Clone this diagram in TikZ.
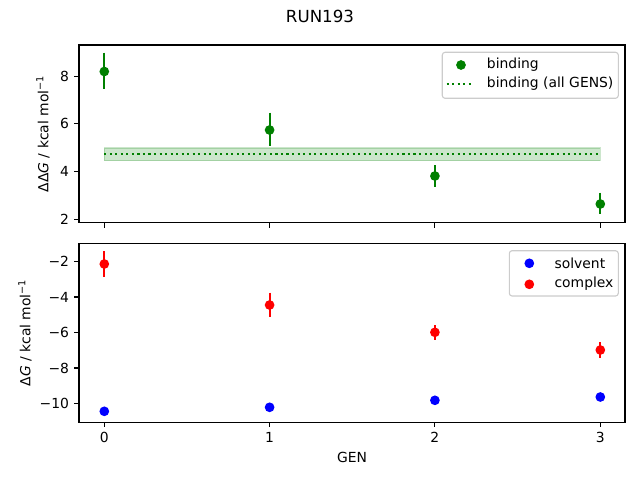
\documentclass[tikz,border=0pt]{standalone}
\usepackage{fontspec}
\setmainfont{DejaVu Sans}
\begin{document}
\begin{tikzpicture}[x=0.72pt,y=-0.72pt,
  spine/.style={line width=0.8pt,black},
  tck/.style={line width=0.8pt,black},
  ticklab/.style={font=\fontsize{10}{12}\selectfont,inner sep=0pt},
  ebar/.style={line width=1.5pt},
  dot/.style={circle,inner sep=0pt,minimum size=7pt},
  legbox/.style={draw=black!20,fill=white,fill opacity=0.8,rounded corners=2pt,line width=0.8pt},
  legtext/.style={font=\fontsize{10}{12}\selectfont,anchor=west,inner sep=0pt}]
\useasboundingbox (0,0) rectangle (640,480);
\definecolor{mplgreen}{RGB}{0,128,0}
% title
\node[font=\fontsize{12}{14}\selectfont] (title) at (320,16.5) {RUN193};

% ---------------- top axes ----------------
% band
\fill[mplgreen,opacity=0.2] (104.3,148) rectangle (600.3,160.7);
\draw[mplgreen,opacity=0.2,line width=0.8pt] (104.3,148) rectangle (600.3,160.7);
\coordinate (lineA) at (104.3,154);
\coordinate (lineB) at (600.3,154);
\draw[mplgreen,line width=1.5pt,dash pattern=on 1.5pt off 2.475pt] (lineA) -- (lineB);
% error bars and points
\foreach \n/\x/\y/\a/\b in {t0/104.3/71.5/52.7/89,t1/269.6/130/112.7/145.7,t2/434.9/176/165/186.7,t3/600.3/204/192.7/214.3}{
  \coordinate (\n a) at (\x,\a);
  \coordinate (\n b) at (\x,\b);
  \draw[ebar,mplgreen] (\n a) -- (\n b);
  \node[dot,fill=mplgreen] (\n) at (\x,\y) {};
}
% spines
\draw[spine] (79,45) rectangle (625,222.7);
% y ticks
\foreach \v/\y in {8/76.7,6/123.7,4/171.3,2/219.3}{
  \draw[tck] (79,\y) -- (74.1,\y);
  \node[ticklab,anchor=east] (ty\v) at (69.3,\y) {\v};
}
% x ticks (no labels)
\foreach \x in {104.3,269.6,434.9,600.3}{
  \draw[tck] (\x,222.7) -- (\x,227.6);
}
\node[font=\fontsize{10}{12}\selectfont,rotate=90] (ylabA) at (43,133.9) {ΔΔ\textit{G} / kcal mol\textsuperscript{−1}};
% legend top
\draw[legbox] (442.3,52.3) rectangle (618.3,98.3);
\node[dot,fill=mplgreen] (lgA) at (461,65) {};
\node[legtext] (lgAt) at (486.7,64.5) {binding};
\coordinate (lgBa) at (446.7,84.3);
\coordinate (lgBb) at (474.3,84.3);
\draw[mplgreen,line width=1.5pt,dash pattern=on 1.5pt off 2.475pt] (lgBa) -- (lgBb);
\node[legtext] (lgBt) at (486.7,84) {binding (all GENS)};

% ---------------- bottom axes ----------------
\foreach \n/\x/\y/\a/\b in {c0/104.3/264/251/277,c1/269.6/305/292.7/316.7,c2/434.9/332.3/325/339.7,c3/600.3/350/342.3/357.7}{
  \coordinate (\n a) at (\x,\a);
  \coordinate (\n b) at (\x,\b);
  \draw[ebar,red] (\n a) -- (\n b);
  \node[dot,fill=red] (\n) at (\x,\y) {};
}
\foreach \n/\x/\y in {s0/104.3/411.3,s1/269.6/407.3,s2/434.9/400.3,s3/600.3/397}{
  \node[dot,fill=blue] (\n) at (\x,\y) {};
}
\draw[spine] (79,243.3) rectangle (625,422.3);
\foreach \v/\y in {−2/261.7,−4/297,−6/332.3,−8/368,−10/403.7}{
  \draw[tck] (79,\y) -- (74.1,\y);
  \node[ticklab,anchor=east] at (69.3,\y) {\v};
}
\foreach \v/\x in {0/104.3,1/269.6,2/434.9,3/600.3}{
  \draw[tck] (\x,422.3) -- (\x,427.2);
  \node[ticklab,anchor=north] (tx\v) at (\x,432) {\v};
}
\node[font=\fontsize{10}{12}\selectfont] (xlab) at (352,457.5) {GEN};
\node[font=\fontsize{10}{12}\selectfont,rotate=90] (ylabB) at (25,332.8) {Δ\textit{G} / kcal mol\textsuperscript{−1}};
% legend bottom
\draw[legbox] (509.3,250.7) rectangle (618.3,296);
\node[dot,fill=blue] (lgC) at (529.3,263.3) {};
\node[legtext] (lgCt) at (554.3,263) {solvent};
\node[dot,fill=red] (lgD) at (529.3,284.3) {};
\node[legtext] (lgDt) at (554.3,284) {complex};
\end{tikzpicture}
\end{document}
